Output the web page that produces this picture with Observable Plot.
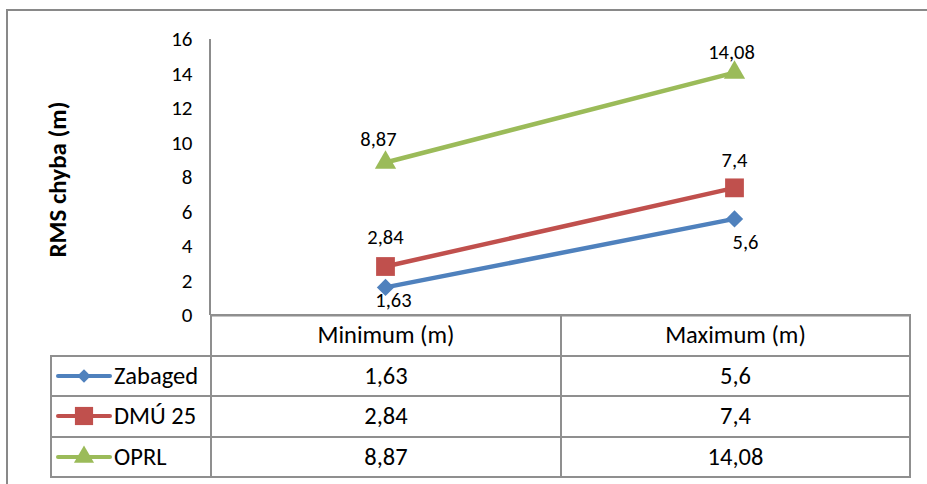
<!DOCTYPE html>
<html>
<head>
<meta charset="utf-8">
<script src="https://cdn.jsdelivr.net/npm/d3@7"></script>
<script src="https://cdn.jsdelivr.net/npm/@observablehq/plot@0.6"></script>
<style>
  body { margin: 0; background: #fff; }
  #wrap { position: relative; width: 927px; height: 484px; overflow: hidden; background: #fff;
          font-family: Carlito, Calibri, "Open Sans", sans-serif; color: #000; }
  #frame { position: absolute; left: 6px; top: 9px; width: 1000px; height: 1000px;
           border: 2px solid #898989; box-sizing: border-box; }
  #chart { position: absolute; left: 0; top: 0; }
  #tbl { position: absolute; left: 50px; top: 314px; border-collapse: collapse; table-layout: fixed; }
  #tbl td { border: 2px solid #8f8f8f; padding: 0; font-size: 24.5px; text-align: center;
            vertical-align: middle; line-height: 1; white-space: nowrap; }
  #tbl tr { height: 40.5px; }
  #tbl td.corner { border-top: none; border-left: none; }
  .leg { display: flex; align-items: center; padding-left: 4px; }
  .leg svg { display: block; }
  .leg span { margin-left: 2px; }
</style>
</head>
<body>
<div id="wrap">
  <div id="frame"></div>
  <div id="chart"></div>
  <table id="tbl"></table>
</div>
<script>
// ---- data ----
const categories = ["Minimum (m)", "Maximum (m)"];
const seriesNames = ["Zabaged", "DMÚ 25", "OPRL"];
const zabaged = [1.63, 5.6];
const dmu25 = [2.84, 7.4];
const oprl = [8.87, 14.08];
const yTicks = [0, 2, 4, 6, 8, 10, 12, 14, 16];
const yAxisTitle = "RMS chyba (m)";

// ---- styles ----
const seriesColors = ["#4F81BD", "#C0504D", "#9BBB59"];
const seriesSymbols = ["diamond2", "square", "triangle"];
const seriesR = [7.8, 10.6, 7.9];
// label offsets per series: [min, max] as [dx, dy]
const labelOffsets = [
  [[8, 13], [11, 24]],
  [[0, -29], [0, -27]],
  [[-7, -23], [-3, -20]]
];

const seriesValues = [zabaged, dmu25, oprl];
const rows = [];
seriesNames.forEach((s, i) => categories.forEach((c, j) => rows.push({series: s, cat: c, value: seriesValues[i][j], si: i, ci: j})));
const fmt = v => String(v).replace(".", ",");
const axisGrey = "#8c8c8c";

const marks = [
  Plot.ruleY([0], {stroke: axisGrey, strokeWidth: 2}),
  (index, scales, values, dimensions) => {
    const {marginLeft, marginTop, height, marginBottom} = dimensions;
    return d3.create("svg:line")
      .attr("x1", marginLeft).attr("x2", marginLeft)
      .attr("y1", marginTop).attr("y2", height - marginBottom)
      .attr("stroke", axisGrey).attr("stroke-width", 2).node();
  },
  Plot.axisY({ticks: yTicks, tickSize: 0, tickPadding: 18, label: null, tickFormat: d => String(d), fontSize: 21}),
  Plot.text([yAxisTitle], {frameAnchor: "left", text: d => d, rotate: -90, dx: -153, dy: 2,
    fontWeight: "bold", fontSize: 25, textAnchor: "middle"}),
  Plot.line(rows, {x: "cat", y: "value", z: "series", stroke: "series", strokeWidth: 4.5})
];
seriesNames.forEach((s, i) => {
  marks.push(Plot.dot(rows.filter(d => d.si === i), {
    x: "cat", y: "value", symbol: () => seriesSymbols[i], fill: seriesColors[i], stroke: "none", r: seriesR[i]
  }));
});
rows.forEach(d => {
  const [dx, dy] = labelOffsets[d.si][d.ci];
  marks.push(Plot.text([d], {x: "cat", y: "value", text: r => fmt(r.value), dx, dy, fontSize: 20.5}));
});

const chart = Plot.plot({
  width: 927,
  height: 320,
  marginLeft: 210,
  marginRight: 18,
  marginTop: 39,
  marginBottom: 5,
  style: {fontSize: "21px", fontFamily: 'Carlito, Calibri, "Open Sans", sans-serif', color: "#000", background: "transparent", overflow: "visible"},
  x: {type: "point", domain: categories, padding: 0.5, axis: null},
  y: {domain: [0, 16], axis: null},
  color: {domain: seriesNames, range: seriesColors},
  symbol: {domain: seriesSymbols, range: seriesSymbols},
  marks
});
document.getElementById("chart").appendChild(chart);

// ---- data table (legend + values) ----
const tbl = d3.select("#tbl");
const colgroup = tbl.append("colgroup");
[160, 350, 349].forEach(w => colgroup.append("col").style("width", w + "px"));
const head = tbl.append("tr");
head.append("td").attr("class", "corner");
categories.forEach(c => head.append("td").text(c));
seriesNames.forEach((s, i) => {
  const tr = tbl.append("tr");
  const leg = tr.append("td").append("div").attr("class", "leg");
  const sw = leg.append("svg").attr("width", 56).attr("height", 24);
  sw.append("line").attr("x1", 2).attr("x2", 54).attr("y1", 12).attr("y2", 12)
    .attr("stroke", seriesColors[i]).attr("stroke-width", 4).attr("stroke-linecap", "round");
  const symMap = {diamond2: d3.symbolDiamond2, square: d3.symbolSquare, triangle: d3.symbolTriangle};
  const sizes = [115, 330, 175];
  sw.append("path").attr("transform", "translate(28,12)")
    .attr("d", d3.symbol(symMap[seriesSymbols[i]], sizes[i])()).attr("fill", seriesColors[i]);
  leg.append("span").text(s);
  seriesValues[i].forEach(v => tr.append("td").text(fmt(v)));
});
</script>
</body>
</html>
